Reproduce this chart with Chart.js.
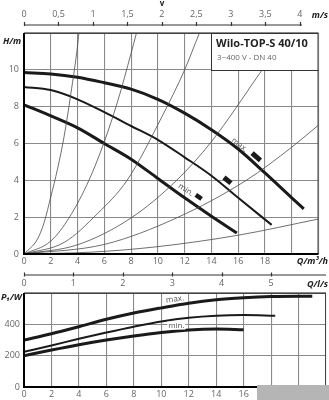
<!DOCTYPE html>
<html>
<head>
<meta charset="utf-8">
<script src="https://cdn.jsdelivr.net/npm/chart.js@4.4.0/dist/chart.umd.min.js"></script>
<style>
html, body { margin: 0; padding: 0; background: #fff; }
#wrap { position: relative; width: 329px; height: 400px; overflow: hidden; }
canvas { position: absolute; left: 0; }
#head { top: 0; }
#power { top: 272px; }
#stamp { position: absolute; left: 257px; top: 385px; width: 72px; height: 15px; background: #b5b5b5; }
</style>
</head>
<body>
<div id="wrap">
<canvas id="head" width="329" height="272"></canvas>
<canvas id="power" width="329" height="128"></canvas>
<div id="stamp"></div>
</div>
<script>
// pump curves H/m over Q/m3/h
var qMax = [0, 2, 4, 6, 8, 10, 12, 14, 16, 18, 20, 20.9];
var hMax = [9.85, 9.78, 9.6, 9.3, 8.95, 8.4, 7.65, 6.75, 5.7, 4.4, 3.05, 2.45];
var qMid = [0, 2, 4, 6, 8, 10, 12, 14, 16, 18.5];
var hMid = [9.07, 8.9, 8.4, 7.7, 6.95, 6.2, 5.25, 4.25, 3.05, 1.58];
var qMin = [0, 2, 4, 6, 8, 10, 12, 14, 15.9];
var hMin = [8.1, 7.5, 6.85, 6.0, 5.15, 4.1, 3.05, 2.05, 1.14];

// thin system curves
var sys1Q = [0, 1, 1.5, 2, 2.5, 3, 3.5, 4, 4.1];
var sys1H = [0, 0.8, 1.7, 3.1, 4.6, 6.4, 8.7, 11.3, 12];
var sys2Q = [0, 2, 3.4, 4.85, 6, 7, 8, 8.4];
var sys2H = [0, 0.7, 2, 4, 6.1, 8.3, 10.9, 12];
var sys3Q = [0, 3, 5.5, 7.7, 10.3, 12, 13.1];
var sys3H = [0, 0.63, 2.2, 4.0, 7.45, 10, 12];
var sys4Q = [0, 4, 8, 11.4, 14, 17.6, 19.7];
var sys4H = [0, 0.5, 1.96, 4.0, 6.1, 9.8, 12];
var sys5Q = [0, 6, 11.4, 16.6, 20, 22];
var sys5H = [0, 0.52, 1.96, 4.0, 5.8, 7.0];
var sys6Q = [0, 5, 10, 16, 22];
var sys6H = [0, 0.1, 0.4, 1.02, 1.9];

// speed markers on the curves (max, mid, min)
var markQ = [17.35, 15.2, 13.05];
var markH = [5.28, 4.0, 3.1];

// power curves P1/W over Q/m3/h
var pqMax = [0, 2, 4, 6, 8, 10, 12, 14, 16, 18, 20, 21];
var pMax = [300, 340, 385, 432, 472, 505, 535, 557, 570, 578, 580, 579];
var pqMid = [0, 2, 4, 6, 8, 10, 12, 14, 16, 18.3];
var pMid = [225, 265, 308, 348, 385, 418, 442, 455, 459, 455];
var pqMin = [0, 2, 4, 6, 8, 10, 12, 14, 16];
var pMin = [200, 236, 270, 300, 326, 348, 364, 370, 365];

var INK = '#1a1a1a';
var THIN = '#4a4a4a';
var GRID = '#8a8a8a';
var LABEL = '#666';

Chart.defaults.font.family = "'Open Sans', sans-serif";
Chart.defaults.font.size = 9;
Chart.defaults.color = LABEL;

function pts(qs, vs) {
  return qs.map(function(q, i) { return {x: q, y: vs[i]}; });
}
function curve(qs, vs, w, color) {
  return {
    data: pts(qs, vs), borderColor: color, borderWidth: w, pointRadius: 0,
    fill: false, cubicInterpolationMode: 'monotone', clip: 0
  };
}

function frame(ctx, a) {
  ctx.strokeStyle = '#444';
  ctx.lineWidth = 1;
  ctx.beginPath();
  ctx.moveTo(a.left, a.top + 0.5); ctx.lineTo(a.right, a.top + 0.5);
  ctx.moveTo(a.right - 0.5, a.top); ctx.lineTo(a.right - 0.5, a.bottom);
  ctx.stroke();
  ctx.strokeStyle = '#000';
  ctx.lineWidth = 2;
  ctx.beginPath();
  ctx.moveTo(a.left, a.top); ctx.lineTo(a.left, a.bottom);
  ctx.lineTo(a.right, a.bottom);
  ctx.stroke();
}

function title(ctx, txt, x, y, align, font) {
  ctx.font = font || "italic bold 9px 'Open Sans', sans-serif";
  ctx.fillStyle = '#222';
  ctx.textAlign = align;
  ctx.textBaseline = 'middle';
  ctx.fillText(txt, x, y);
}

function tag(ctx, txt, x, y, deg) {
  ctx.save();
  ctx.translate(x, y);
  ctx.rotate(deg * Math.PI / 180);
  ctx.font = "8px 'Open Sans', sans-serif";
  ctx.fillStyle = '#555';
  ctx.textAlign = 'center';
  ctx.textBaseline = 'middle';
  ctx.fillText(txt, 0, 0);
  ctx.restore();
}

var headDecor = {
  id: 'headDecor',
  afterDatasetsDraw: function(chart) {
    var ctx = chart.ctx, a = chart.chartArea;
    var x = chart.scales.x, y = chart.scales.y, v = chart.scales.v;
    ctx.save();
    frame(ctx, a);
    // type box
    var bx = Math.round(x.getPixelForValue(14)), by = Math.round(y.getPixelForValue(10));
    ctx.fillStyle = '#fff';
    ctx.fillRect(bx, a.top, a.right - bx, by - a.top);
    ctx.strokeStyle = '#333';
    ctx.lineWidth = 1;
    ctx.strokeRect(bx + 0.5, a.top + 0.5, a.right - bx - 1, by - a.top);
    ctx.textAlign = 'left';
    ctx.textBaseline = 'middle';
    ctx.fillStyle = '#222';
    ctx.font = "bold 11px 'Open Sans', sans-serif";
    ctx.fillText('Wilo-TOP-S 40/10', bx + 5, a.top + 11);
    ctx.fillStyle = '#666';
    ctx.font = "8px 'Open Sans', sans-serif";
    ctx.fillText('3~400 V - DN 40', bx + 6, a.top + 25);
    // velocity axis
    var ly = a.top - 8;
    ctx.strokeStyle = '#333';
    ctx.lineWidth = 1.2;
    ctx.beginPath();
    ctx.moveTo(v.getPixelForValue(0), ly);
    ctx.lineTo(v.getPixelForValue(4) + 2, ly);
    for (var t = 0; t <= 4; t += 0.5) {
      var tx = Math.round(v.getPixelForValue(t)) + 0.5;
      ctx.moveTo(tx, ly - 3); ctx.lineTo(tx, ly + 1);
    }
    ctx.stroke();
    title(ctx, 'v', v.getPixelForValue(2), 4, 'center', "bold 8px 'Open Sans', sans-serif");
    title(ctx, 'm/s', 328, 15, 'right');
    title(ctx, 'H/m', 3, 41, 'left');
    title(ctx, 'Q/m³/h', 328, 261, 'right');
    tag(ctx, 'max.', x.getPixelForValue(16.1), y.getPixelForValue(5.92), 38);
    tag(ctx, 'min.', x.getPixelForValue(12.1), y.getPixelForValue(3.48), 33);
    ctx.restore();
  }
};

var powerDecor = {
  id: 'powerDecor',
  afterDatasetsDraw: function(chart) {
    var ctx = chart.ctx, a = chart.chartArea;
    var x = chart.scales.x, y = chart.scales.y, ls = chart.scales.ls;
    ctx.save();
    frame(ctx, a);
    var ly = a.top - 18;
    ctx.strokeStyle = '#333';
    ctx.lineWidth = 1.2;
    ctx.beginPath();
    ctx.moveTo(a.left, ly); ctx.lineTo(a.right, ly);
    for (var t = 0; t <= 5; t++) {
      var tx = Math.round(ls.getPixelForValue(t)) + 0.5;
      ctx.moveTo(tx, ly - 2.5); ctx.lineTo(tx, ly + 1.5);
    }
    ctx.stroke();
    title(ctx, 'Q/l/s', 328, a.top - 9, 'right');
    title(ctx, 'P\u2081/W', 1, a.top + 4, 'left');
    tag(ctx, 'max.', x.getPixelForValue(11), y.getPixelForValue(560), -8);
    var mx = x.getPixelForValue(11.1), my = y.getPixelForValue(392);
    ctx.fillStyle = '#fff';
    ctx.fillRect(mx - 9, my - 4, 18, 8);
    tag(ctx, 'min.', mx, my, 0);
    ctx.restore();
  }
};

var gridOpts = { color: GRID, lineWidth: 1.1, drawTicks: false };

new Chart(document.getElementById('head'), {
  type: 'line',
  data: {
    datasets: [
      curve(sys1Q, sys1H, 0.8, THIN),
      curve(sys2Q, sys2H, 0.8, THIN),
      curve(sys3Q, sys3H, 0.8, THIN),
      curve(sys4Q, sys4H, 0.8, THIN),
      curve(sys5Q, sys5H, 0.8, THIN),
      curve(sys6Q, sys6H, 0.8, THIN),
      curve(qMax, hMax, 3, INK),
      curve(qMid, hMid, 2, INK),
      curve(qMin, hMin, 3, INK),
      {
        data: pts(markQ, markH), showLine: false, pointStyle: 'line',
        pointRadius: [5.5, 4.5, 3.5], pointBorderWidth: [5, 5, 4.5],
        pointRotation: [41, 39, 34], borderColor: INK, backgroundColor: INK
      }
    ]
  },
  options: {
    responsive: false, animation: false, devicePixelRatio: 1,
    layout: { padding: { right: 3 } },
    plugins: { legend: { display: false }, tooltip: { enabled: false } },
    scales: {
      x: {
        type: 'linear', position: 'bottom', min: 0, max: 22,
        afterFit: function(s) { s.height = 18; },
        ticks: { stepSize: 2, padding: 2, maxRotation: 0, autoSkip: false,
          callback: function(val) { return val <= 18 ? val : ''; } },
        grid: gridOpts, border: { display: false }
      },
      v: {
        type: 'linear', position: 'top', min: 0, max: 4.27,
        afterFit: function(s) { s.height = 33; },
        ticks: { stepSize: 0.5, padding: 13, maxRotation: 0, autoSkip: false, includeBounds: false,
          callback: function(val) {
            var r = Math.round(val * 2) / 2;
            return r <= 4 ? String(r).replace('.', ',') : '';
          } },
        grid: { display: false, drawTicks: false }, border: { display: false }
      },
      y: {
        type: 'linear', min: 0, max: 12,
        afterFit: function(s) { s.width = 24; },
        ticks: { stepSize: 2, padding: 5,
          callback: function(val) { return val <= 10 ? val : ''; } },
        grid: gridOpts, border: { display: false }
      }
    }
  },
  plugins: [headDecor]
});

new Chart(document.getElementById('power'), {
  type: 'line',
  data: {
    datasets: [
      curve(pqMax, pMax, 3, INK),
      curve(pqMid, pMid, 2, INK),
      curve(pqMin, pMin, 3, INK)
    ]
  },
  options: {
    responsive: false, animation: false, devicePixelRatio: 1,
    layout: { padding: { right: 3 } },
    plugins: { legend: { display: false }, tooltip: { enabled: false } },
    scales: {
      x: {
        type: 'linear', position: 'bottom', min: 0, max: 22,
        afterFit: function(s) { s.height = 13; },
        ticks: { stepSize: 2, padding: 2, maxRotation: 0, autoSkip: false,
          callback: function(val) { return val <= 18 ? val : ''; } },
        grid: gridOpts, border: { display: false }
      },
      ls: {
        type: 'linear', position: 'top', min: 0, max: 22 / 3.6,
        afterFit: function(s) { s.height = 21; },
        ticks: { stepSize: 1, padding: 4, maxRotation: 0, autoSkip: false, includeBounds: false,
          callback: function(val) { return val <= 5 ? val : ''; } },
        grid: { display: false, drawTicks: false }, border: { display: false }
      },
      y: {
        type: 'linear', min: 0, max: 600,
        afterFit: function(s) { s.width = 24; },
        ticks: { stepSize: 200, padding: 4,
          callback: function(val) { return val <= 400 ? val : ''; } },
        grid: gridOpts, border: { display: false }
      }
    }
  },
  plugins: [powerDecor]
});
</script>
</body>
</html>
